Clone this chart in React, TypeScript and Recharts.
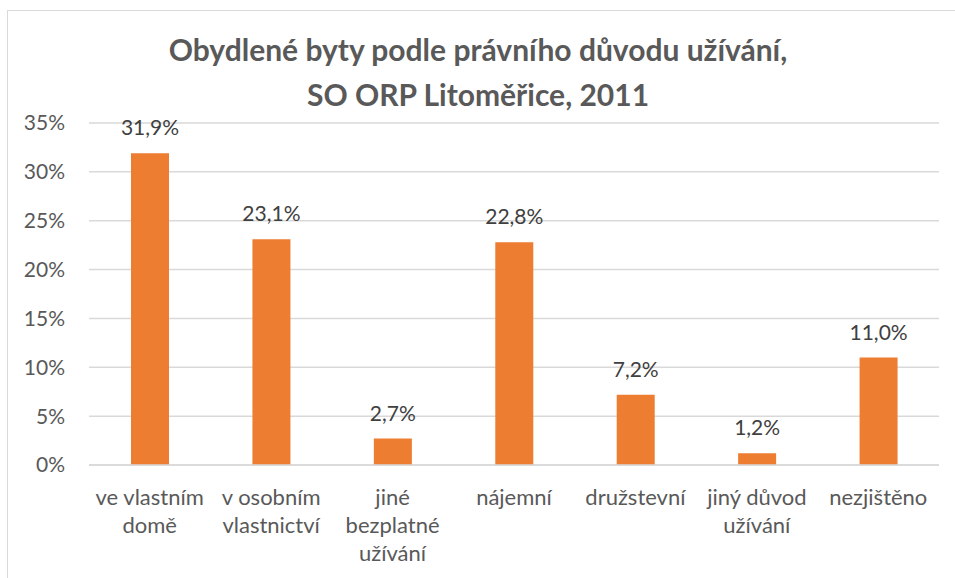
import React from 'react';
import { BarChart, Bar, XAxis, YAxis, CartesianGrid, LabelList } from 'recharts';

const categories = [
  've vlastním\ndomě',
  'v osobním\nvlastnictví',
  'jiné\nbezplatné\nužívání',
  'nájemní',
  'družstevní',
  'jiný důvod\nužívání',
  'nezjištěno',
];
const values = [31.9, 23.1, 2.7, 22.8, 7.2, 1.2, 11.0];
const yTicks = [0, 5, 10, 15, 20, 25, 30, 35];
const titleLines = ['Obydlené byty podle právního důvodu užívání,', 'SO ORP Litoměřice, 2011'];

const data = categories.map((c, i) => ({ name: c, value: values[i] }));

const FONT = 'Lato, "Open Sans", sans-serif';

const XTick = (props: any) => {
  const { x, y, payload } = props;
  const lines = String(payload.value).split('\n');
  return (
    <g transform={`translate(${x},${y})`}>
      {lines.map((l: string, i: number) => (
        <text key={i} x={0} y={i * 28} dy={32} textAnchor="middle" fill="#595959" fontSize={22} fontFamily={FONT}>
          {l}
        </text>
      ))}
    </g>
  );
};

const fmt = (v: number) => v.toFixed(1).replace('.', ',') + '%';

export default function App() {
  return (
    <div style={{ position: 'absolute', left: 0, top: 0, width: 955, height: 578, background: '#fff', overflow: 'hidden' }}>
      <div style={{ position: 'absolute', left: 7, top: 10, width: 980, height: 600, border: '1px solid #d9d9d9' }} />
      <div style={{ position: 'absolute', left: 0, top: 0 }}>
        <BarChart width={955} height={578} data={data} margin={{ top: 123, right: 16, bottom: 0, left: 0 }} barSize={38}>
          <text x={478} y={61} textAnchor="middle" fill="#595959" fontSize={30} fontWeight="bold" fontFamily={FONT}>
            {titleLines[0]}
          </text>
          <text x={478} y={106} textAnchor="middle" fill="#595959" fontSize={30} fontWeight="bold" fontFamily={FONT}>
            {titleLines[1]}
          </text>
          <CartesianGrid vertical={false} stroke="#d9d9d9" strokeWidth={1.5} />
          <XAxis dataKey="name" height={113} tickLine={false} axisLine={{ stroke: '#d9d9d9', strokeWidth: 1.5 }} tick={<XTick />} interval={0} />
          <YAxis
            width={89}
            domain={[0, 35]}
            ticks={yTicks}
            tickFormatter={(v: number) => `${v}%`}
            tickLine={false}
            axisLine={false}
            tickMargin={18}
            tick={{ fill: '#595959', fontSize: 21, fontFamily: FONT }}
          />
          <Bar dataKey="value" fill="#ED7D31" isAnimationActive={false}>
            <LabelList dataKey="value" position="top" offset={18} formatter={(v: any) => fmt(Number(v))} fill="#404040" fontSize={21} fontFamily={FONT} />
          </Bar>
        </BarChart>
      </div>
    </div>
  );
}
